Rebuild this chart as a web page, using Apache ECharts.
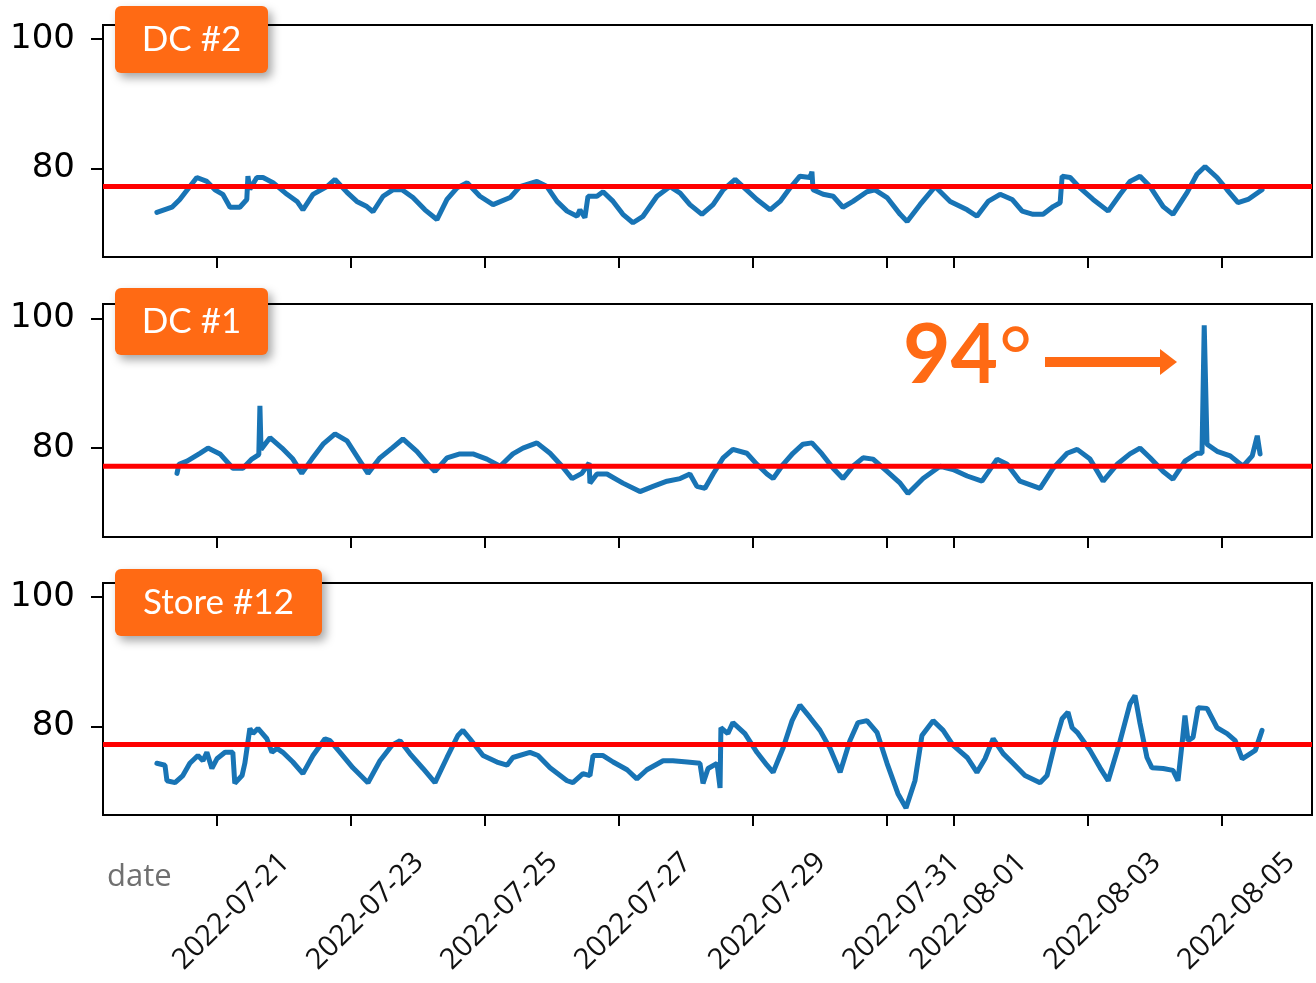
<!DOCTYPE html>
<html>
<head>
<meta charset="utf-8">
<script src="https://cdn.jsdelivr.net/npm/echarts@6/dist/echarts.min.js"></script>
<style>
  html, body { margin: 0; padding: 0; background: #fff; }
  #chart { width: 1316px; height: 983px; }
</style>
</head>
<body>
<div id="chart"></div>
<script>
// time = hours since 2022-07-21 00:00, temps in °F
const dc2Hours = [-21.5, -16.1, -13.3, -7.2, -3.6, -0.7, 2.1, 4.7, 8.2, 10.7, 11.1, 11.8, 14.3, 16.5, 20.1, 25.1, 28.7, 30.8, 34.4, 39.4, 42.3, 46.6, 50.1, 53.7, 55.9, 59.5, 63.0, 66.3, 70.2, 74.5, 78.8, 82.4, 86.0, 89.6, 94.2, 98.9, 105.0, 108.5, 114.6, 118.2, 121.8, 125.4, 129.0, 130.0, 131.8, 132.9, 136.1, 138.3, 141.9, 145.4, 149.0, 152.6, 157.6, 162.3, 165.9, 169.4, 173.7, 177.7, 181.3, 185.6, 188.4, 193.4, 198.1, 201.7, 205.3, 208.8, 212.4, 213.1, 213.5, 217.1, 220.7, 224.2, 227.8, 232.8, 235.7, 240.0, 244.7, 247.2, 251.8, 257.2, 262.6, 268.7, 272.2, 276.2, 280.5, 284.8, 288.4, 292.3, 295.9, 299.5, 302.0, 302.7, 305.6, 309.1, 313.8, 319.2, 323.5, 327.0, 330.6, 334.2, 338.9, 342.4, 347.5, 351.0, 353.9, 358.2, 361.8, 365.7, 369.3, 374.3];
const dc2Temps = [73.2, 74.0, 75.2, 78.6, 78.0, 76.7, 76.0, 74.0, 74.0, 75.2, 78.8, 76.8, 78.6, 78.6, 77.8, 76.0, 74.9, 73.6, 76.0, 77.2, 78.3, 76.3, 74.9, 74.1, 73.3, 75.7, 76.7, 76.7, 75.5, 73.6, 72.1, 75.2, 77.0, 77.8, 75.7, 74.4, 75.5, 77.2, 78.0, 77.2, 74.9, 73.4, 72.6, 73.6, 72.4, 75.7, 75.7, 76.4, 74.9, 72.9, 71.6, 72.6, 75.7, 77.2, 76.2, 74.4, 72.9, 74.4, 76.7, 78.3, 77.2, 75.2, 73.6, 74.9, 77.0, 78.8, 78.6, 79.5, 76.7, 76.0, 75.7, 74.0, 74.9, 76.4, 76.7, 75.5, 72.9, 71.8, 74.4, 77.2, 74.9, 73.6, 72.6, 74.9, 76.0, 75.2, 73.4, 72.9, 72.9, 74.1, 74.7, 78.8, 78.6, 77.0, 75.2, 73.4, 76.0, 78.0, 78.8, 77.2, 74.1, 72.9, 76.3, 79.1, 80.3, 78.6, 76.7, 74.7, 75.2, 76.7];

const dc1Hours = [-14.3, -13.6, -10.7, -6.1, -3.2, 1.1, 5.7, 9.3, 12.5, 15.0, 15.4, 15.8, 19.0, 23.3, 27.2, 30.4, 34.0, 38.0, 42.3, 46.6, 50.5, 54.1, 58.4, 62.7, 66.6, 71.6, 75.6, 78.1, 82.4, 87.0, 91.7, 96.7, 101.4, 106.0, 109.6, 114.6, 119.3, 123.6, 127.2, 130.7, 133.3, 133.6, 136.1, 139.7, 145.4, 151.5, 156.2, 161.2, 165.9, 169.4, 171.9, 174.8, 177.7, 181.3, 184.8, 189.8, 193.4, 197.0, 199.2, 202.8, 206.3, 209.9, 213.1, 216.7, 220.7, 224.2, 227.8, 231.4, 235.0, 240.0, 244.7, 247.5, 252.9, 259.0, 263.6, 268.7, 274.0, 279.4, 283.0, 287.6, 294.8, 299.5, 304.5, 308.1, 312.7, 317.4, 322.4, 327.0, 330.6, 334.2, 338.9, 342.4, 346.7, 351.0, 352.8, 353.6, 354.6, 358.2, 362.9, 367.5, 370.8, 372.6, 373.6];
const dc1Temps = [76.1, 77.5, 78.0, 79.2, 80.0, 79.1, 76.9, 76.9, 78.3, 79.0, 86.5, 79.8, 81.6, 80.0, 78.3, 76.1, 78.3, 80.6, 82.2, 81.1, 78.5, 76.1, 78.5, 80.0, 81.4, 79.5, 77.5, 76.4, 78.5, 79.1, 79.1, 78.3, 77.2, 79.1, 80.0, 80.8, 79.2, 77.2, 75.3, 76.1, 77.7, 74.6, 76.0, 76.0, 74.6, 73.3, 74.1, 74.9, 75.3, 76.0, 74.1, 73.8, 76.0, 78.5, 79.8, 79.2, 77.5, 76.0, 75.3, 77.5, 79.2, 80.6, 80.8, 79.1, 76.9, 75.3, 77.2, 78.5, 78.3, 76.4, 74.6, 73.0, 75.3, 77.2, 76.7, 75.7, 74.9, 78.3, 77.5, 74.9, 73.8, 76.9, 79.2, 79.8, 78.3, 74.9, 77.5, 79.1, 80.0, 78.5, 76.4, 75.2, 78.0, 79.2, 79.2, 98.9, 80.6, 79.5, 78.8, 77.2, 78.8, 81.9, 79.1];

const store12Hours = [-21.5, -18.6, -17.9, -15.0, -12.2, -9.7, -6.8, -5.0, -3.6, -1.8, 0.0, 2.9, 5.7, 6.4, 9.0, 10.0, 11.8, 12.9, 14.7, 17.9, 19.7, 21.5, 23.6, 27.2, 30.8, 34.4, 38.7, 40.5, 44.1, 48.7, 54.1, 58.4, 62.7, 65.6, 69.1, 73.8, 78.1, 82.4, 86.3, 88.1, 90.6, 95.3, 100.3, 103.9, 106.0, 112.1, 115.0, 119.3, 125.4, 127.5, 131.1, 133.6, 134.7, 138.3, 141.9, 146.9, 150.4, 154.0, 159.8, 163.3, 168.4, 173.0, 174.1, 175.9, 179.1, 180.2, 180.5, 183.0, 184.8, 189.1, 193.4, 197.0, 199.2, 202.8, 206.0, 208.8, 212.4, 216.0, 219.6, 223.2, 226.7, 229.6, 232.8, 236.4, 240.0, 243.9, 246.8, 250.0, 252.5, 256.5, 260.1, 263.6, 268.7, 272.2, 275.1, 278.0, 281.6, 285.1, 289.4, 294.8, 297.3, 300.2, 302.7, 304.8, 306.3, 308.1, 312.7, 316.3, 319.2, 323.5, 327.0, 328.8, 330.6, 333.1, 334.9, 338.9, 342.4, 344.2, 345.7, 346.7, 347.8, 349.6, 351.4, 354.6, 358.2, 361.8, 364.7, 367.2, 371.9, 374.3];
const store12Temps = [74.3, 74.0, 71.6, 71.3, 72.4, 74.3, 75.5, 74.7, 76.0, 73.5, 75.0, 76.0, 76.0, 71.2, 72.4, 74.3, 79.7, 78.9, 79.7, 78.1, 76.0, 76.6, 76.0, 74.5, 72.7, 75.5, 78.1, 77.8, 76.0, 73.6, 71.3, 74.7, 77.1, 77.8, 75.8, 73.5, 71.3, 75.2, 78.6, 79.4, 78.1, 75.5, 74.5, 74.0, 75.2, 76.0, 75.5, 73.6, 71.6, 71.3, 72.7, 72.4, 75.5, 75.5, 74.5, 73.3, 71.9, 73.3, 74.7, 74.7, 74.5, 74.3, 71.2, 73.5, 74.3, 70.5, 79.8, 78.9, 80.6, 78.9, 76.0, 74.0, 72.9, 76.7, 80.9, 83.3, 81.4, 79.4, 76.6, 72.9, 77.8, 80.6, 80.9, 79.1, 74.3, 69.6, 67.4, 71.6, 78.6, 80.9, 79.4, 77.1, 75.2, 72.9, 75.0, 78.1, 75.8, 74.3, 72.4, 71.3, 72.4, 77.5, 81.2, 82.2, 79.8, 79.1, 76.3, 73.6, 71.6, 77.8, 83.5, 84.8, 80.5, 75.2, 73.6, 73.5, 73.2, 71.6, 77.5, 81.7, 77.8, 78.3, 82.9, 82.8, 79.8, 78.9, 77.8, 75.0, 76.3, 79.4];

const panelNames = ['DC #2', 'DC #1', 'Store #12'];
const threshold = 77.2;
const tickDates = ['2022-07-21', '2022-07-23', '2022-07-25', '2022-07-27', '2022-07-29', '2022-07-31', '2022-08-01', '2022-08-03', '2022-08-05'];
const yTicks = [80, 100];

const hoursList = [dc2Hours, dc1Hours, store12Hours];
const tempsList = [dc2Temps, dc1Temps, store12Temps];

const t0 = Date.UTC(2022, 6, 21);
const tickHours = tickDates.map(d => {
  const p = d.split('-').map(Number);
  return (Date.UTC(p[0], p[1] - 1, p[2]) - t0) / 3600000;
});

const xMin = -40.8, xMax = 392.2;
const yMin = 66.3, yMax = 102.2;
const panelTops = [25, 304, 583];
const panelHeights = [232, 233, 232];
const orange = '#ff6a14';

const chart = echarts.init(document.getElementById('chart'));

const grid = [], xAxis = [], yAxis = [], series = [];
panelNames.forEach((name, i) => {
  grid.push({
    left: 103, right: 4, top: panelTops[i], height: panelHeights[i],
    show: true, borderColor: '#000', borderWidth: 2,
    containLabel: false, outerBoundsMode: 'none'
  });
  xAxis.push({
    type: 'value', gridIndex: i, min: xMin, max: xMax,
    axisLine: { show: false, onZero: false },
    splitLine: { show: false },
    axisTick: {
      show: true, customValues: tickHours, length: 11,
      lineStyle: { color: '#000', width: 2 }
    },
    axisLabel: {
      show: i === 2, customValues: tickHours,
      rotate: 45, align: 'center', verticalAlign: 'middle', margin: 111,
      padding: [0, 0, 0, 41],
      fontFamily: 'Open Sans', fontSize: 29, color: '#111',
      formatter: v => tickDates[tickHours.indexOf(v)] || ''
    }
  });
  yAxis.push({
    type: 'value', gridIndex: i, min: yMin, max: yMax,
    axisLine: { show: false, onZero: false },
    splitLine: { show: false },
    axisTick: {
      show: true, customValues: yTicks, length: 12,
      lineStyle: { color: '#000', width: 2 }
    },
    axisLabel: {
      customValues: yTicks, margin: 28,
      fontFamily: 'DejaVu Sans', fontSize: 34, color: '#000'
    }
  });
  series.push({
    name: name, type: 'line', xAxisIndex: i, yAxisIndex: i,
    data: hoursList[i].map((h, k) => [h, tempsList[i][k]]),
    showSymbol: false, z: 2,
    emphasis: { disabled: true },
    lineStyle: { color: '#1874b5', width: 5, cap: 'round' }
  });
  series.push({
    name: 'limit', type: 'line', xAxisIndex: i, yAxisIndex: i,
    data: [[xMin, threshold], [xMax, threshold]],
    showSymbol: false, z: 3,
    emphasis: { disabled: true },
    lineStyle: { color: '#ff0000', width: 5 }
  });
});

// orange name tags
const tagBoxes = [
  { x: 115, y: 6, w: 153, h: 67 },
  { x: 115, y: 288, w: 153, h: 67 },
  { x: 115, y: 569, w: 207, h: 67 }
];
const graphic = [];
tagBoxes.forEach((b, i) => {
  graphic.push({
    type: 'rect', z: 100,
    shape: { x: b.x, y: b.y, width: b.w, height: b.h, r: 6 },
    style: {
      fill: orange, shadowBlur: 10, shadowOffsetX: 4, shadowOffsetY: 5,
      shadowColor: 'rgba(0,0,0,0.35)'
    }
  });
  graphic.push({
    type: 'text', z: 101,
    style: {
      x: b.x + b.w / 2, y: b.y + b.h / 2, text: panelNames[i],
      fill: '#fff', font: '35px Lato', align: 'center', verticalAlign: 'middle'
    }
  });
});

graphic.push(
  {
    type: 'text', z: 100,
    style: { x: 903, y: 357, text: '94', fill: orange, font: 'bold 82px Lato', verticalAlign: 'middle' }
  },
  {
    type: 'text', z: 100,
    style: { x: 999, y: 318, text: '°', fill: orange, font: '80px Lato', verticalAlign: 'top' }
  },
  {
    type: 'line', z: 100,
    shape: { x1: 1045, y1: 362, x2: 1164, y2: 362 },
    style: { stroke: orange, lineWidth: 10 }
  },
  {
    type: 'polygon', z: 100,
    shape: { points: [[1160, 349], [1177, 362], [1160, 375]] },
    style: { fill: orange }
  },
  {
    type: 'text', z: 100,
    style: { x: 107, y: 877, text: 'date', fill: '#707070', font: '31px "Open Sans"', verticalAlign: 'middle' }
  }
);

chart.setOption({
  animation: false,
  backgroundColor: '#fff',
  grid: grid,
  xAxis: xAxis,
  yAxis: yAxis,
  series: series,
  graphic: graphic
});
</script>
</body>
</html>
